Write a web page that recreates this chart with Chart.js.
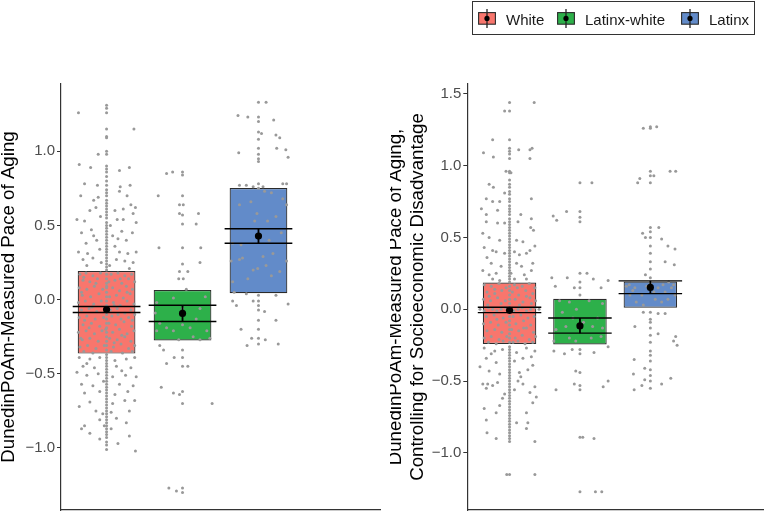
<!DOCTYPE html>
<html>
<head>
<meta charset="utf-8">
<script src="https://cdn.jsdelivr.net/npm/chart.js@4.4.1/dist/chart.umd.min.js"></script>
<style>
  body { margin: 0; background: #fff; font-family: "Liberation Sans", Arial, sans-serif; }
  #wrap { position: relative; width: 767px; height: 521px; overflow: hidden; }
  canvas { position: absolute; top: 0; }
  #leftChart { left: 0; }
  #rightChart { left: 390px; }
  #legend { position: absolute; left: 472px; top: 1px; width: 281px; height: 32px; border: 1px solid #333; }
  .item { position: absolute; top: 7px; height: 19px; }
  .item svg { position: absolute; left: 0; top: 0; }
  .item span { position: absolute; left: 28px; top: 2px; font-size: 15px; line-height: 17px; color: #1a1a1a; white-space: nowrap; }
</style>
</head>
<body>
<div id="wrap">
  <canvas id="leftChart" width="390" height="521"></canvas>
  <canvas id="rightChart" width="377" height="521"></canvas>
  <div id="legend"></div>
</div>
<script>
const groups = ['White', 'Latinx-white', 'Latinx'];

// left panel: box = lower/upper, mean and mean +/- SE
const leftBoxLow = [-0.364, -0.276, 0.043];
const leftBoxHigh = [0.193, 0.065, 0.752];
const leftMean = [-0.067, -0.093, 0.428];
const leftSeLow = [-0.087, -0.148, 0.380];
const leftSeHigh = [-0.047, -0.038, 0.477];
const leftTicks = [-1.0, -0.5, 0.0, 0.5, 1.0];

// right panel
const rightBoxLow = [-0.241, -0.245, 0.011];
const rightBoxHigh = [0.186, 0.073, 0.193];
const rightMean = [-0.007, -0.116, 0.152];
const rightSeLow = [-0.023, -0.166, 0.109];
const rightSeHigh = [0.014, -0.061, 0.198];
const rightTicks = [-1.0, -0.5, 0.0, 0.5, 1.0, 1.5];

// jittered observations [offset from group, value]
const leftWhitePts = [
  [-0.37,1.26],[0.36,1.15],[-0.36,0.91],[-0.11,0.98],[-0.21,0.89],[0.30,0.89],[0.17,0.87],[-0.29,0.78],
  [-0.12,0.77],[0.18,0.76],[0.17,0.73],[0.31,0.77],[-0.34,0.70],[-0.11,0.69],[-0.17,0.67],[-0.14,0.62],
  [-0.22,0.60],[0.11,0.60],[0.22,0.61],[0.32,0.64],[0.38,0.62],[-0.39,0.54],[-0.29,0.53],[-0.08,0.56],
  [0.14,0.54],[0.22,0.54],[0.35,0.58],[0.39,0.52],[-0.33,0.45],[-0.17,0.43],[-0.13,0.40],[0.08,0.43],
  [0.15,0.41],[0.26,0.40],[0.34,0.45],[-0.37,0.32],[-0.25,0.31],[-0.09,0.34],[0.11,0.36],[0.17,0.32],
  [0.28,0.31],[0.39,0.32],[-0.31,0.27],[-0.18,0.28],[-0.07,0.25],[0.13,0.27],[0.24,0.26],[0.35,0.25],
  [-0.26,0.23],[0.04,0.23],[0.30,0.21],[-0.20,0.47],[0.05,0.50],[0.27,0.70],[-0.27,0.38],[0.20,0.46],
  [-0.35,0.17],[-0.27,0.18],[-0.18,0.16],[-0.08,0.18],[0.06,0.17],[0.15,0.18],[0.24,0.16],[0.33,0.17],
  [-0.31,0.13],[-0.22,0.12],[-0.12,0.14],[0.03,0.12],[0.11,0.13],[0.20,0.11],[0.29,0.14],[0.37,0.12],
  [-0.36,0.08],[-0.26,0.07],[-0.16,0.09],[-0.05,0.07],[0.08,0.08],[0.17,0.06],[0.26,0.09],[0.34,0.07],
  [-0.32,0.03],[-0.21,0.02],[-0.10,0.04],[0.04,0.02],[0.13,0.03],[0.22,0.01],[0.31,0.04],
  [-0.37,-0.02],[-0.28,-0.01],[-0.17,-0.03],[-0.07,-0.01],[0.09,-0.02],[0.18,-0.04],[0.27,-0.01],[0.36,-0.03],
  [-0.33,-0.07],[-0.23,-0.06],[-0.13,-0.08],[0.05,-0.07],[0.14,-0.06],[0.24,-0.09],[0.32,-0.07],
  [-0.36,-0.12],[-0.26,-0.11],[-0.15,-0.13],[-0.04,-0.12],[0.07,-0.11],[0.19,-0.13],[0.29,-0.12],[0.37,-0.10],
  [-0.31,-0.17],[-0.20,-0.16],[-0.09,-0.18],[0.03,-0.16],[0.12,-0.17],[0.23,-0.15],[0.33,-0.18],
  [-0.37,-0.22],[-0.27,-0.21],[-0.16,-0.23],[-0.06,-0.21],[0.08,-0.22],[0.17,-0.20],[0.27,-0.23],[0.36,-0.21],
  [-0.32,-0.27],[-0.22,-0.26],[-0.11,-0.28],[0.04,-0.26],[0.14,-0.27],[0.24,-0.25],[0.32,-0.28],
  [-0.35,-0.32],[-0.25,-0.31],[-0.14,-0.33],[-0.03,-0.31],[0.09,-0.32],[0.19,-0.30],[0.29,-0.33],[0.37,-0.31],
  [-0.30,-0.35],[-0.18,-0.36],[0.06,-0.35],[0.21,-0.36],[0.34,-0.35],
  [-0.30,0.15],[-0.14,0.11],[0.18,0.14],[-0.33,0.05],[0.00,0.09],[0.27,0.05],[-0.19,-0.05],[0.10,-0.04],
  [-0.29,-0.14],[0.15,-0.10],[0.34,-0.14],[-0.23,-0.19],[-0.01,-0.20],[0.20,-0.24],[-0.34,-0.26],[0.10,-0.29],
  [-0.36,-0.39],[-0.22,-0.40],[-0.09,-0.39],[0.11,-0.41],[0.26,-0.40],[0.37,-0.39],[-0.31,-0.45],[-0.16,-0.46],
  [0.13,-0.45],[0.32,-0.46],[-0.39,-0.49],[-0.26,-0.51],[-0.11,-0.50],[0.08,-0.52],[0.25,-0.51],[0.39,-0.52],
  [-0.33,-0.57],[-0.18,-0.58],[0.17,-0.57],[0.35,-0.58],[-0.29,-0.63],[-0.09,-0.62],[0.11,-0.64],[0.28,-0.62],
  [-0.36,-0.72],[-0.22,-0.69],[0.08,-0.70],[0.24,-0.68],[0.37,-0.68],[-0.14,-0.75],[-0.05,-0.77],[0.06,-0.76],
  [0.13,-0.80],[-0.09,-0.81],[0.26,-0.83],[-0.33,-0.87],[-0.22,-0.90],[-0.03,-0.85],[0.15,-0.97],[0.30,-0.92],
  [0.38,-1.02],[-0.09,-0.94],[0.06,-0.87],[-0.29,-0.85],[-0.26,-0.43],[0.20,-0.48],[-0.04,-0.55],[0.30,-0.75]
];
const leftWhiteCol = [
  1.31,1.29,1.26,1.15,1.10,1.09,1.00,0.98,0.90,0.88,0.86,0.83,0.80,0.77,0.74,0.72,0.70,0.67,0.65,0.63,
  0.61,0.59,0.57,0.55,0.52,0.50,0.48,0.46,0.44,0.42,0.40,0.38,0.36,0.34,0.32,0.30,0.28,0.26,0.24,0.22,
  0.20,0.17,0.14,0.11,0.08,0.05,0.02,-0.01,-0.04,-0.07,-0.10,-0.13,-0.16,-0.19,-0.22,-0.25,-0.28,-0.31,
  -0.34,-0.37,-0.39,-0.41,-0.43,-0.45,-0.47,-0.49,-0.51,-0.53,-0.55,-0.57,-0.59,-0.61,-0.63,-0.65,-0.67,
  -0.69,-0.71,-0.73,-0.75,-0.77,-0.79,-0.81,-0.83,-0.85,-0.87,-0.89,-0.91,-0.93,-0.96,-0.98,-1.01
];
const leftMixPts = [
  [-0.21,0.85],[-0.13,0.86],[0,0.86],[0,0.84],[-0.32,0.70],[0,0.70],[-0.04,0.64],[0.01,0.64],[-0.04,0.58],
  [0,0.57],[0.21,0.58],[0,0.51],[0.18,0.51],[-0.31,0.35],[0,0.35],[0.24,0.35],[0,0.24],[-0.04,0.19],[0.07,0.19],
  [0.23,0.25],[-0.05,0.14],[0.01,0.14],[0.05,0.07],[-0.12,0.01],[-0.34,-0.02],[0,-0.06],[0.23,-0.06],
  [0.18,-0.13],[0,-0.17],[-0.30,-0.16],[-0.12,-0.21],[0.32,-0.21],[0.23,-0.27],[-0.21,-0.19],[0.10,-0.19],
  [0.36,-0.26],[-0.34,-0.21],[-0.30,-0.31],[-0.25,-0.34],[-0.11,-0.39],[0,-0.34],[0,-0.39],[-0.21,-0.43],
  [0,-0.45],[0.07,-0.45],[-0.28,-0.59],[-0.12,-0.63],[-0.04,-0.64],[0,-0.62],[0,-0.70],[0.39,-0.70],
  [-0.18,-1.27],[-0.08,-1.29],[0,-1.27],[0,-1.30],[-0.36,-0.09],[0.30,0.02],[-0.05,-0.27],[0.14,-0.25]
];
const leftLatPts = [
  [0,1.33],[0.10,1.33],[-0.27,1.24],[-0.14,1.23],[0,1.23],[0,1.20],[0.20,1.21],[0,1.13],[0.04,1.12],
  [0.23,1.11],[0.28,1.09],[0,1.08],[0.24,1.02],[0.36,1.01],[0,1.02],[0,0.98],[-0.26,0.99],[0,0.95],
  [0.39,0.96],[0,0.93],[-0.25,0.77],[-0.16,0.77],[-0.07,0.76],[0,0.78],[0,0.75],[0.06,0.76],[0.32,0.78],
  [0.37,0.78],[-0.25,0.64],[0.08,0.73],[0.17,0.72],[0.32,0.68],[0.37,0.64],[-0.02,0.58],[0.23,0.56],
  [0.12,0.53],[-0.05,0.53],[-0.34,0.38],[-0.23,0.37],[-0.36,0.26],[-0.25,0.27],[-0.21,0.28],[-0.07,0.20],
  [-0.01,0.21],[0.10,0.23],[0.17,0.16],[0.28,0.19],[0.37,0.26],[0.06,0.29],[0.19,0.31],[-0.14,0.14],
  [-0.34,0.12],[-0.16,0.04],[-0.32,0.05],[0,0.03],[-0.34,-0.01],[-0.29,-0.04],[-0.07,-0.01],[0,-0.01],
  [0,-0.04],[0,-0.07],[0.08,-0.08],[0.23,0.03],[0.39,-0.03],[-0.23,-0.20],[0,-0.20],[0,-0.26],[0,-0.30],
  [0.09,-0.27],[-0.15,-0.31],[0.23,-0.14],[0.26,-0.30],[0,-0.14],[-0.09,-0.26],[0.30,0.45],[-0.10,0.66],[0.14,0.40]
];

const rightWhitePts = [
  [0.35,1.44],[-0.07,1.38],[-0.24,1.18],[-0.37,1.09],[-0.23,1.06],[0.13,1.11],[0.29,1.11],[0.32,1.12],
  [0.29,1.05],[-0.05,0.96],[0.02,0.95],[-0.29,0.87],[-0.23,0.85],[-0.07,0.81],[-0.33,0.77],[-0.24,0.75],
  [-0.14,0.75],[0.31,0.77],[-0.40,0.70],[-0.17,0.69],[-0.33,0.66],[0.16,0.66],[-0.17,0.60],[-0.07,0.60],
  [-0.33,0.61],[0.12,0.61],[0.31,0.63],[0.34,0.55],[0.30,0.57],[-0.38,0.53],[-0.29,0.50],[-0.14,0.48],
  [0.10,0.48],[0.19,0.47],[-0.36,0.43],[-0.24,0.41],[-0.19,0.40],[-0.07,0.39],[0.07,0.40],[0.14,0.38],
  [0.24,0.39],[0.29,0.41],[0.36,0.44],[-0.32,0.36],[-0.26,0.32],[-0.12,0.30],[0.10,0.32],[0.17,0.30],
  [0.33,0.32],[-0.38,0.27],[-0.29,0.24],[-0.19,0.25],[0.02,0.25],[0.21,0.24],[0.31,0.27],[-0.24,0.21],
  [-0.14,0.20],[0.07,0.21],[0.24,0.21],
  [-0.36,0.17],[-0.26,0.16],[-0.15,0.18],[-0.05,0.15],[0.07,0.17],[0.18,0.16],[0.28,0.18],[0.36,0.15],
  [-0.32,0.12],[-0.21,0.11],[-0.11,0.13],[0.04,0.12],[0.13,0.10],[0.23,0.13],[0.33,0.11],
  [-0.37,0.07],[-0.27,0.06],[-0.17,0.08],[-0.06,0.06],[0.08,0.07],[0.19,0.05],[0.29,0.08],[0.37,0.06],
  [-0.31,0.03],[-0.12,0.04],[0.14,0.03],[0.31,0.04],
  [-0.42,0.0],[-0.36,-0.01],[-0.30,0.01],[-0.24,0.0],[-0.18,-0.01],[-0.12,0.0],[-0.06,0.01],[0.06,-0.01],
  [0.12,0.0],[0.18,0.01],[0.24,-0.01],[0.30,0.0],[0.36,0.01],[0.42,0.0],
  [-0.33,-0.05],[-0.22,-0.04],[-0.09,-0.06],[0.05,-0.05],[0.16,-0.04],[0.26,-0.06],[0.35,-0.05],
  [-0.37,-0.10],[-0.27,-0.09],[-0.16,-0.11],[-0.05,-0.09],[0.09,-0.10],[0.20,-0.08],[0.30,-0.11],
  [-0.32,-0.15],[-0.21,-0.14],[-0.11,-0.16],[0.03,-0.14],[0.13,-0.15],[0.24,-0.13],[0.34,-0.16],
  [-0.36,-0.20],[-0.26,-0.19],[-0.15,-0.21],[-0.04,-0.19],[0.08,-0.20],[0.18,-0.18],[0.28,-0.21],[0.37,-0.19],
  [-0.30,-0.23],[-0.19,-0.24],[0.05,-0.23],[0.22,-0.24],[0.33,-0.23],
  [-0.21,0.14],[0.11,0.15],[-0.29,0.09],[0.24,0.09],[-0.18,-0.07],[0.20,-0.13],[-0.09,-0.22],[0.12,-0.22],
  [-0.36,-0.27],[-0.21,-0.29],[-0.10,-0.28],[0.10,-0.30],[0.24,-0.27],[0.36,-0.29],[-0.33,-0.34],[-0.19,-0.37],
  [0.07,-0.36],[0.19,-0.34],[0.31,-0.33],[-0.42,-0.40],[-0.29,-0.43],[-0.14,-0.45],[0.14,-0.44],[0.26,-0.42],
  [0.33,-0.39],[-0.38,-0.52],[-0.31,-0.52],[-0.24,-0.53],[-0.17,-0.51],[0.12,-0.50],[0.19,-0.52],[0.36,-0.54],
  [-0.33,-0.55],[-0.07,-0.59],[0.07,-0.56],[0.29,-0.58],[0.38,-0.61],[0.33,-0.65],[-0.36,-0.69],[-0.19,-0.72],
  [-0.14,-0.67],[0.24,-0.72],[-0.33,-0.77],[0.10,-0.79],[0.26,-0.79],[0.24,-0.83],[-0.32,-0.86],[-0.19,-0.90],
  [0.36,-0.92],[-0.04,-1.15],[0.36,-1.15],[-0.26,-0.31],[0.16,-0.47],[-0.10,-0.62]
];
const rightWhiteCol = [
  1.44,1.38,1.18,1.12,1.10,1.08,1.05,0.96,0.95,0.90,0.87,0.85,0.82,0.80,0.77,0.75,0.72,0.70,0.68,0.66,
  0.63,0.61,0.59,0.57,0.55,0.53,0.51,0.49,0.47,0.45,0.43,0.41,0.39,0.37,0.35,0.33,0.31,0.29,0.27,0.25,
  0.23,0.21,0.19,0.16,0.13,0.10,0.07,0.04,0.01,-0.02,-0.05,-0.08,-0.11,-0.14,-0.17,-0.20,-0.23,-0.26,
  -0.28,-0.30,-0.32,-0.34,-0.36,-0.38,-0.40,-0.42,-0.44,-0.46,-0.48,-0.50,-0.52,-0.54,-0.56,-0.58,-0.60,
  -0.62,-0.64,-0.66,-0.68,-0.70,-0.72,-0.74,-0.76,-0.78,-0.80,-0.82,-0.84,-0.86,-0.88,-0.90,-0.92,-1.15
];
const rightMixPts = [
  [0,0.88],[0.17,0.88],[-0.38,0.65],[-0.33,0.62],[-0.19,0.68],[0,0.68],[0,0.64],[0,0.61],[-0.40,0.22],
  [-0.18,0.22],[0,0.25],[0.10,0.25],[0,0.19],[-0.08,0.15],[0,0.15],[0.19,0.21],[0.40,0.20],[-0.35,0.16],
  [0.30,0.15],[0,0.10],[-0.29,0.06],[-0.15,0.05],[0.13,0.06],[0.32,0.04],[-0.25,-0.02],[-0.10,-0.06],
  [0.25,-0.06],[-0.34,-0.14],[-0.20,-0.12],[0.18,-0.12],[0.32,-0.13],[-0.15,-0.20],[0.16,-0.20],[0.30,-0.19],
  [-0.37,-0.22],[-0.06,-0.22],[-0.37,-0.29],[-0.22,-0.31],[-0.11,-0.28],[0,-0.28],[0,-0.31],[0.20,-0.30],
  [0.40,-0.26],[-0.34,-0.56],[-0.06,-0.43],[0,-0.44],[-0.08,-0.52],[0,-0.53],[0,-0.56],[0.33,-0.54],
  [0.40,-0.50],[0,-0.89],[0.04,-0.89],[0.20,-0.90],[0,-1.27],[0.22,-1.27],[0.31,-1.27],[0.05,-0.09],[-0.05,0.0]
];
const rightLatPts = [
  [-0.10,1.26],[0,1.27],[0.09,1.27],[0,1.26],[-0.18,0.88],[-0.15,0.91],[0,0.96],[0,0.93],[0.05,0.93],
  [0,0.88],[0.28,0.96],[0.36,0.96],[-0.11,0.53],[-0.07,0.50],[0,0.57],[0,0.54],[0,0.50],[0.12,0.57],
  [0,0.44],[0.16,0.49],[0.25,0.44],[0.35,0.42],[0,0.39],[0,0.33],[0.21,0.33],[0.34,0.31],[0,0.28],
  [-0.07,0.24],[0,0.22],[-0.34,0.16],[-0.22,0.15],[-0.12,0.10],[0.11,0.15],[0.21,0.12],[0.30,0.15],
  [0.35,0.10],[-0.29,0.10],[0.07,0.07],[0.16,0.05],[-0.20,0.05],[0,0.18],[0.26,0.19],[-0.30,0.17],
  [-0.25,0.13],[-0.05,0.16],[0.05,0.12],[0.25,0.07],[0.33,0.17],[-0.10,0.03],[0.18,0.17],
  [-0.10,-0.02],[0,-0.02],[0,-0.07],[0,-0.13],[0,-0.18],[0.11,-0.03],[0.21,-0.03],[-0.22,-0.12],
  [0,-0.23],[0.11,-0.17],[0.36,-0.19],[0.33,-0.22],[0.38,-0.25],[0,-0.29],[0,-0.36],[-0.23,-0.35],
  [-0.08,-0.41],[0,-0.42],[-0.24,-0.45],[0,-0.50],[-0.08,-0.49],[0.16,-0.52],[0.29,-0.48],[-0.12,-0.53],
  [0,-0.55],[-0.23,-0.56],[0,-0.46],[0,-0.09],[0,-0.32]
];

const groupColors = ['#F8766D', '#2DB04A', '#628BC9'];
const fontFamily = '"Liberation Sans", Arial, sans-serif';

Chart.defaults.font.family = fontFamily;

const errorBars = {
  id: 'errorBars',
  afterDatasetsDraw(chart, args, opts) {
    const { ctx, scales: { x, y } } = chart;
    const bars = chart.getDatasetMeta(2).data;
    ctx.save();
    ctx.strokeStyle = '#000';
    opts.low.forEach((lo, i) => {
      const cx = x.getPixelForValue(i + 1);
      const half = bars[i].width / 2 + 5;
      const yl = y.getPixelForValue(lo);
      const yh = y.getPixelForValue(opts.high[i]);
      ctx.lineWidth = 1.4;
      ctx.beginPath();
      ctx.moveTo(cx - half, yh); ctx.lineTo(cx + half, yh);
      ctx.moveTo(cx - half, yl); ctx.lineTo(cx + half, yl);
      ctx.stroke();
      ctx.lineWidth = 1.8;
      ctx.beginPath();
      ctx.moveTo(cx, yh); ctx.lineTo(cx, yl);
      ctx.stroke();
    });
    ctx.restore();
  }
};

function pointsFor(lists, cols) {
  const out = [];
  lists.forEach((pts, i) => pts.forEach(p => out.push({ x: i + 1 + p[0], y: p[1] })));
  cols.forEach((col, i) => col.forEach(v => out.push({ x: i + 1, y: v })));
  return out;
}

function makePanel(id, p) {
  new Chart(document.getElementById(id), {
    type: 'bar',
    data: {
      datasets: [
        {
          type: 'scatter',
          order: 0,
          data: p.mean.map((m, i) => ({ x: i + 1, y: m })),
          pointRadius: 3.6,
          pointBackgroundColor: '#000',
          pointBorderWidth: 0
        },
        {
          type: 'scatter',
          order: 1,
          data: pointsFor(p.pts, p.cols),
          pointRadius: 1.5,
          pointBackgroundColor: '#999999',
          pointBorderWidth: 0
        },
        {
          type: 'bar',
          order: 2,
          data: groups.map((g, i) => ({ x: i + 1, y: [p.low[i], p.high[i]] })),
          backgroundColor: groupColors,
          borderColor: '#2b2b2b',
          borderWidth: 1.2,
          borderSkipped: false,
          categoryPercentage: 0.8,
          barPercentage: 0.95
        }
      ]
    },
    options: {
      responsive: false,
      animation: false,
      layout: { padding: { left: 0, right: p.padRight, top: 84, bottom: 2 } },
      plugins: {
        legend: { display: false },
        tooltip: { enabled: false },
        errorBars: { low: p.seLow, high: p.seHigh }
      },
      scales: {
        x: {
          type: 'linear',
          min: 0.4,
          max: 4.6,
          offset: false,
          afterBuildTicks: s => { s.ticks = groups.map((g, i) => ({ value: i + 1 })); },
          grid: { display: false },
          ticks: { display: false },
          border: { display: true, color: '#333', width: 1.2 },
          afterFit: s => { s.height = 0; }
        },
        y: {
          type: 'linear',
          min: p.yMin,
          max: p.yMax,
          afterBuildTicks: s => { s.ticks = p.ticks.map(v => ({ value: v })); },
          afterFit: s => { s.width = p.axisWidth; },
          grid: { display: true, drawOnChartArea: false, drawTicks: true, tickLength: 4, color: '#333', lineWidth: 1 },
          border: { display: true, color: '#333', width: 1.2 },
          ticks: {
            padding: 2,
            color: '#4D4D4D',
            font: { size: 15 },
            callback: v => v.toFixed(1).replace('-', '\u2212')
          },
          title: {
            display: true,
            text: p.title,
            color: '#000',
            font: { size: 18.7, lineHeight: 1.155 },
            padding: { top: p.titlePad, bottom: 0 }
          }
        }
      }
    },
    plugins: [errorBars]
  });
}

makePanel('leftChart', {
  low: leftBoxLow, high: leftBoxHigh, mean: leftMean, seLow: leftSeLow, seHigh: leftSeHigh,
  ticks: leftTicks, yMin: -1.418, yMax: 1.453,
  pts: [leftWhitePts, leftMixPts, leftLatPts], cols: [leftWhiteCol, [], []],
  title: 'DunedinPoAm-Measured Pace of Aging',
  axisWidth: 61, padRight: 10, titlePad: -1.6
});

makePanel('rightChart', {
  low: rightBoxLow, high: rightBoxHigh, mean: rightMean, seLow: rightSeLow, seHigh: rightSeHigh,
  ticks: rightTicks, yMin: -1.397, yMax: 1.568,
  pts: [rightWhitePts, rightMixPts, rightLatPts], cols: [rightWhiteCol, [], []],
  title: ['DunedinPoAm-Measured Pace of Aging,', 'Controlling for Socioeconomic Disadvantage'],
  axisWidth: 77.3, padRight: 4, titlePad: -5.0
});

// legend
const legendX = [5, 84, 208];
const legend = document.getElementById('legend');
groups.forEach((g, i) => {
  const item = document.createElement('div');
  item.className = 'item';
  item.style.left = legendX[i] + 'px';
  item.innerHTML =
    '<svg width="18" height="19" viewBox="0 0 18 19">' +
    '<line x1="9" y1="0" x2="9" y2="19" stroke="#222" stroke-width="1.3"/>' +
    '<rect x="0.6" y="3.6" width="16.8" height="11.6" fill="' + groupColors[i] + '" stroke="#2b2b2b" stroke-width="1.1"/>' +
    '<line x1="9" y1="3.6" x2="9" y2="15.2" stroke="#222" stroke-width="1.3"/>' +
    '<circle cx="9" cy="9.4" r="2.6" fill="#000"/></svg>' +
    '<span>' + g + '</span>';
  legend.appendChild(item);
});
</script>
</body>
</html>
